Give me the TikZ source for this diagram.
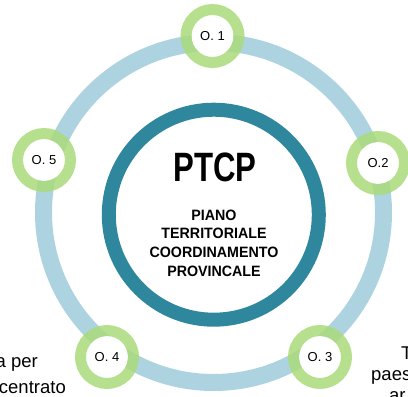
\documentclass[tikz,border=0pt]{standalone}
\usepackage{fontspec}
\setmainfont{Liberation Sans}
\newfontfamily\stretto[FakeStretch=0.95]{Liberation Sans}
\newfontfamily\strettissimo[FakeStretch=0.76]{Liberation Sans}
\definecolor{anello}{HTML}{AED3E0}
\definecolor{petrolio}{HTML}{2F879D}
\definecolor{verde}{HTML}{A9DB7A}

\begin{document}
\begin{tikzpicture}[x=1pt,y=-1pt,
		obiettivo/.style={circle,fill=white,minimum size=42pt,inner sep=0pt,font=\fontsize{13}{15}\selectfont},
		anellino/.style={verde,line width=11pt,opacity=.85},
		lato/.style={inner sep=0pt,font=\fontsize{18.5}{22}\selectfont}]
			\useasboundingbox (0,0) rectangle (408,397);
			\clip (0,0) rectangle (408,397);
			% anelli
			\draw[anello,line width=17pt] (213.5,212.5) circle (170pt);
			\draw[petrolio,line width=14pt] (213.8,214.7) circle (105pt);
			% centro
			\node[font=\strettissimo\bfseries\fontsize{41}{41}\selectfont] (sigla) at (215,167) {PTCP};
			\node[align=center,font=\stretto\bfseries\fontsize{15}{18.7}\selectfont] (titolo) at (214,243) {PIANO\\TERRITORIALE\\COORDINAMENTO\\PROVINCALE};
			% obiettivi
			\node[obiettivo] (o1) at (212.5,36) {O. 1};
			\draw[anellino] (o1.center) circle (26.5pt);
			\node[obiettivo] (o2) at (378,163) {O.2};
			\draw[anellino] (o2.center) circle (26.5pt);
			\node[obiettivo] (o3) at (320,357) {O. 3};
			\draw[anellino] (o3.center) circle (26.5pt);
			\node[obiettivo] (o4) at (107,357) {O. 4};
			\draw[anellino] (o4.center) circle (26.5pt);
			\node[obiettivo] (o5) at (44,160) {O. 5};
			\draw[anellino] (o5.center) circle (26.5pt);
			% testi ai lati
			\node[lato,anchor=base east] (sx1) at (38,367) {a per};
			\node[lato,anchor=base east] (sx2) at (66,393) {centrato};
			\node[lato,anchor=base west] (dx1) at (401,359) {T};
			\node[lato,anchor=base west] (dx2) at (371,380) {paes};
			\node[lato,anchor=base west] (dx3) at (389,401) {ar};
		\end{tikzpicture}
\end{document}
